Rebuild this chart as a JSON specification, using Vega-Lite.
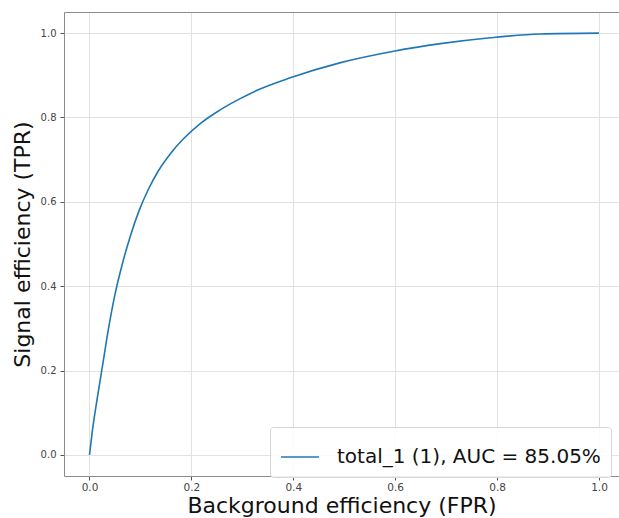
{
  "$schema": "https://vega.github.io/schema/vega-lite/v6.json",
  "width": 555,
  "height": 464,
  "autosize": {"type": "none"},
  "padding": {"left": 64, "top": 12, "right": 0, "bottom": 42},
  "background": "white",
  "config": {
    "font": "DejaVu Sans",
    "view": {"stroke": null},
    "axis": {
      "labelFont": "DejaVu Sans",
      "titleFont": "DejaVu Sans",
      "labelColor": "#444",
      "tickColor": "#555",
      "tickSize": 4,
      "domainColor": "#8c8c8c",
      "domainWidth": 1,
      "gridColor": "#e2e2e2",
      "gridWidth": 1,
      "titleFontWeight": "normal",
      "titleColor": "#111",
      "titleFontSize": 22
    }
  },
  "data": {
    "values": [
      {"fpr": 0.0, "tpr": 0.0, "series": "total_1 (1), AUC = 85.05%"},
      {"fpr": 0.006, "tpr": 0.06, "series": "total_1 (1), AUC = 85.05%"},
      {"fpr": 0.016, "tpr": 0.14, "series": "total_1 (1), AUC = 85.05%"},
      {"fpr": 0.027, "tpr": 0.222, "series": "total_1 (1), AUC = 85.05%"},
      {"fpr": 0.037, "tpr": 0.297, "series": "total_1 (1), AUC = 85.05%"},
      {"fpr": 0.05, "tpr": 0.38, "series": "total_1 (1), AUC = 85.05%"},
      {"fpr": 0.065, "tpr": 0.455, "series": "total_1 (1), AUC = 85.05%"},
      {"fpr": 0.08, "tpr": 0.518, "series": "total_1 (1), AUC = 85.05%"},
      {"fpr": 0.097, "tpr": 0.578, "series": "total_1 (1), AUC = 85.05%"},
      {"fpr": 0.115, "tpr": 0.628, "series": "total_1 (1), AUC = 85.05%"},
      {"fpr": 0.135, "tpr": 0.673, "series": "total_1 (1), AUC = 85.05%"},
      {"fpr": 0.16, "tpr": 0.716, "series": "total_1 (1), AUC = 85.05%"},
      {"fpr": 0.185, "tpr": 0.75, "series": "total_1 (1), AUC = 85.05%"},
      {"fpr": 0.218, "tpr": 0.786, "series": "total_1 (1), AUC = 85.05%"},
      {"fpr": 0.25, "tpr": 0.813, "series": "total_1 (1), AUC = 85.05%"},
      {"fpr": 0.29, "tpr": 0.841, "series": "total_1 (1), AUC = 85.05%"},
      {"fpr": 0.33, "tpr": 0.865, "series": "total_1 (1), AUC = 85.05%"},
      {"fpr": 0.394, "tpr": 0.894, "series": "total_1 (1), AUC = 85.05%"},
      {"fpr": 0.493, "tpr": 0.93, "series": "total_1 (1), AUC = 85.05%"},
      {"fpr": 0.597, "tpr": 0.957, "series": "total_1 (1), AUC = 85.05%"},
      {"fpr": 0.689, "tpr": 0.975, "series": "total_1 (1), AUC = 85.05%"},
      {"fpr": 0.787, "tpr": 0.989, "series": "total_1 (1), AUC = 85.05%"},
      {"fpr": 0.885, "tpr": 0.998, "series": "total_1 (1), AUC = 85.05%"},
      {"fpr": 1.0, "tpr": 1.0, "series": "total_1 (1), AUC = 85.05%"}
    ]
  },
  "resolve": {"axis": {"x": "independent", "y": "independent"}},
  "layer": [
    {
      "mark": {"type": "line", "strokeWidth": 1.6, "interpolate": "monotone"},
      "encoding": {
        "x": {
          "field": "fpr", "type": "quantitative",
          "scale": {"domain": [-0.05, 1.0393], "nice": false, "zero": false},
          "axis": {
            "orient": "bottom",
            "values": [0, 0.2, 0.4, 0.6, 0.8, 1.0],
            "format": ".1f",
            "labelFontSize": 10.5,
            "labelPadding": 2,
            "title": "Background efficiency (FPR)",
            "titlePadding": 3
          }
        },
        "y": {
          "field": "tpr", "type": "quantitative",
          "scale": {"domain": [-0.05, 1.05], "nice": false, "zero": false},
          "axis": {
            "orient": "left",
            "values": [0, 0.2, 0.4, 0.6, 0.8, 1.0],
            "format": ".1f",
            "labelFontSize": 10,
            "labelPadding": 4,
            "title": "Signal efficiency (TPR)",
            "titlePadding": 6
          }
        },
        "color": {
          "field": "series", "type": "nominal",
          "scale": {"range": ["#1f77b4"]},
          "legend": {
            "title": null,
            "orient": "none",
            "legendX": 206,
            "legendY": 415,
            "symbolType": "stroke",
            "symbolSize": 1444,
            "symbolStrokeWidth": 1.6,
            "labelFont": "DejaVu Sans",
            "labelFontSize": 20,
            "labelColor": "#111",
            "labelOffset": 17,
            "labelLimit": 500,
            "padding": 10,
            "fillColor": "rgba(255,255,255,0.85)",
            "strokeColor": "#d6d6d6",
            "cornerRadius": 3
          }
        }
      }
    },
    {
      "mark": {"type": "line", "opacity": 0},
      "encoding": {
        "x": {
          "field": "fpr", "type": "quantitative",
          "axis": {"orient": "top", "labels": false, "ticks": false, "grid": false, "title": null}
        },
        "y": {
          "field": "tpr", "type": "quantitative",
          "axis": {"orient": "right", "labels": false, "ticks": false, "grid": false, "title": null, "domain": false}
        }
      }
    }
  ]
}
